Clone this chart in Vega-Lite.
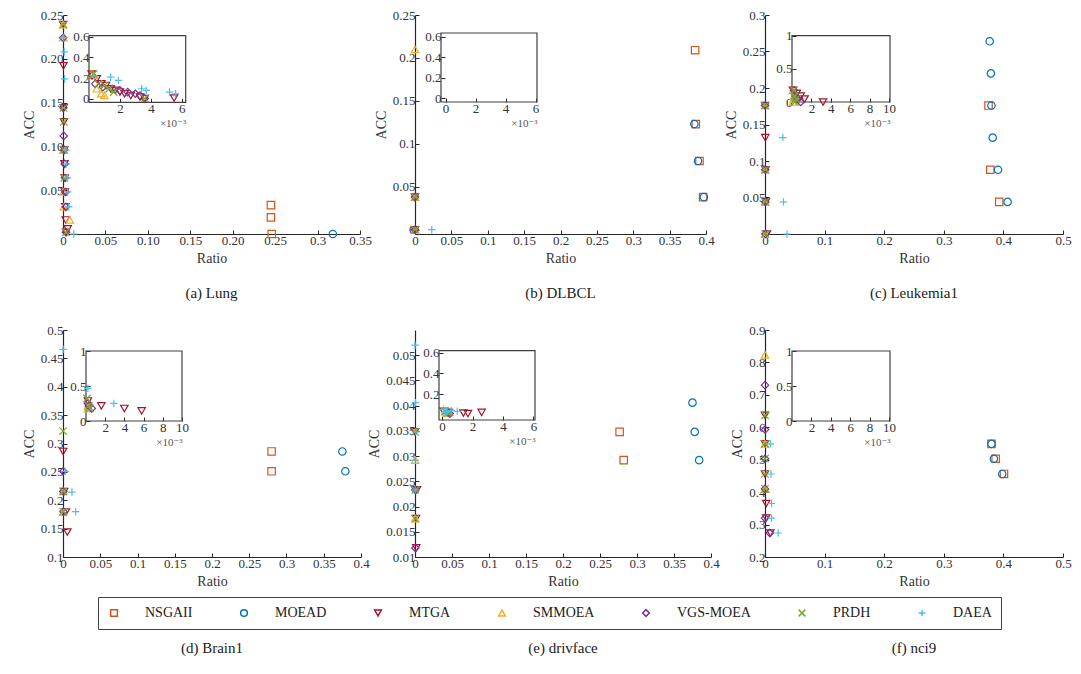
{
 "$schema": "https://vega.github.io/schema/vega-lite/v6.json",
 "background": "white",
 "padding": {"left": 22, "top": 9, "right": 5, "bottom": 5},
 "config": {
  "view": {"stroke": null},
  "font": "Liberation Serif, Times New Roman, DejaVu Serif, serif",
  "axis": {"grid": false, "domainColor": "#262626", "domainWidth": 1.2, "tickColor": "#262626", "tickSize": -4, "tickWidth": 1, "labelFont": "Liberation Serif, Times New Roman, DejaVu Serif, serif", "labelFontSize": 13, "labelColor": "#333333", "labelPadding": 4, "titleFont": "Liberation Serif, Times New Roman, DejaVu Serif, serif", "titleFontSize": 14, "titleFontWeight": "normal", "titleColor": "#333333", "titlePadding": 4, "labelFlush": false, "labelOverlap": false},
  "title": {"font": "Liberation Serif, Times New Roman, DejaVu Serif, serif", "fontSize": 15, "fontWeight": "normal", "color": "#222222", "frame": "group"},
  "legend": {"labelFont": "Liberation Serif, Times New Roman, DejaVu Serif, serif", "labelFontSize": 14, "labelColor": "#222222"}
 },
 "datasets": {
  "lung": [
   {"alg": "NSGAII", "ratio": 0.245, "acc": 0.033},
   {"alg": "NSGAII", "ratio": 0.245, "acc": 0.019},
   {"alg": "NSGAII", "ratio": 0.246, "acc": 0.0},
   {"alg": "MOEAD", "ratio": 0.318, "acc": 0.0},
   {"alg": "MTGA", "ratio": 0.00017, "acc": 0.239},
   {"alg": "MTGA", "ratio": 0.0005, "acc": 0.192},
   {"alg": "MTGA", "ratio": 0.0008, "acc": 0.144},
   {"alg": "MTGA", "ratio": 0.0011, "acc": 0.128},
   {"alg": "MTGA", "ratio": 0.0014, "acc": 0.096},
   {"alg": "MTGA", "ratio": 0.0017, "acc": 0.08},
   {"alg": "MTGA", "ratio": 0.002, "acc": 0.064},
   {"alg": "MTGA", "ratio": 0.0023, "acc": 0.048},
   {"alg": "MTGA", "ratio": 0.0027, "acc": 0.031},
   {"alg": "MTGA", "ratio": 0.0033, "acc": 0.016},
   {"alg": "MTGA", "ratio": 0.0036, "acc": 0.002},
   {"alg": "MTGA", "ratio": 0.0055, "acc": 0.006},
   {"alg": "SMMOEA", "ratio": 0.0002, "acc": 0.239},
   {"alg": "SMMOEA", "ratio": 0.0003, "acc": 0.224},
   {"alg": "SMMOEA", "ratio": 0.0005, "acc": 0.096},
   {"alg": "SMMOEA", "ratio": 0.0008, "acc": 0.048},
   {"alg": "SMMOEA", "ratio": 0.001, "acc": 0.031},
   {"alg": "SMMOEA", "ratio": 0.008, "acc": 0.016},
   {"alg": "VGS-MOEA", "ratio": 0.0002, "acc": 0.224},
   {"alg": "VGS-MOEA", "ratio": 0.0004, "acc": 0.144},
   {"alg": "VGS-MOEA", "ratio": 0.0009, "acc": 0.112},
   {"alg": "VGS-MOEA", "ratio": 0.0015, "acc": 0.096},
   {"alg": "VGS-MOEA", "ratio": 0.002, "acc": 0.08},
   {"alg": "VGS-MOEA", "ratio": 0.0025, "acc": 0.064},
   {"alg": "VGS-MOEA", "ratio": 0.003, "acc": 0.048},
   {"alg": "VGS-MOEA", "ratio": 0.0033, "acc": 0.031},
   {"alg": "VGS-MOEA", "ratio": 0.0036, "acc": 0.002},
   {"alg": "PRDH", "ratio": 0.0003, "acc": 0.239},
   {"alg": "PRDH", "ratio": 0.0006, "acc": 0.144},
   {"alg": "PRDH", "ratio": 0.001, "acc": 0.128},
   {"alg": "PRDH", "ratio": 0.0013, "acc": 0.096},
   {"alg": "PRDH", "ratio": 0.0016, "acc": 0.064},
   {"alg": "PRDH", "ratio": 0.0036, "acc": 0.002},
   {"alg": "DAEA", "ratio": 0.0003, "acc": 0.224},
   {"alg": "DAEA", "ratio": 0.0014, "acc": 0.208},
   {"alg": "DAEA", "ratio": 0.0019, "acc": 0.177},
   {"alg": "DAEA", "ratio": 0.0034, "acc": 0.096},
   {"alg": "DAEA", "ratio": 0.0037, "acc": 0.08},
   {"alg": "DAEA", "ratio": 0.0052, "acc": 0.064},
   {"alg": "DAEA", "ratio": 0.0056, "acc": 0.048},
   {"alg": "DAEA", "ratio": 0.0068, "acc": 0.031},
   {"alg": "DAEA", "ratio": 0.0127, "acc": 0.0}
  ],
  "dlbcl": [
   {"alg": "NSGAII", "ratio": 0.385, "acc": 0.209},
   {"alg": "NSGAII", "ratio": 0.386, "acc": 0.123},
   {"alg": "NSGAII", "ratio": 0.391, "acc": 0.08},
   {"alg": "NSGAII", "ratio": 0.396, "acc": 0.038},
   {"alg": "MOEAD", "ratio": 0.384, "acc": 0.123},
   {"alg": "MOEAD", "ratio": 0.389, "acc": 0.08},
   {"alg": "MOEAD", "ratio": 0.397, "acc": 0.038},
   {"alg": "MTGA", "ratio": 0.0, "acc": 0.038},
   {"alg": "MTGA", "ratio": 0.0, "acc": 0.0},
   {"alg": "SMMOEA", "ratio": 0.0, "acc": 0.21},
   {"alg": "SMMOEA", "ratio": 0.0, "acc": 0.038},
   {"alg": "SMMOEA", "ratio": 0.0, "acc": 0.0},
   {"alg": "VGS-MOEA", "ratio": 0.0, "acc": 0.038},
   {"alg": "VGS-MOEA", "ratio": 0.0, "acc": 0.0},
   {"alg": "PRDH", "ratio": 0.0, "acc": 0.038},
   {"alg": "PRDH", "ratio": 0.0, "acc": 0.0},
   {"alg": "DAEA", "ratio": 0.023, "acc": 0.0}
  ],
  "leukemia": [
   {"alg": "NSGAII", "ratio": 0.375, "acc": 0.176},
   {"alg": "NSGAII", "ratio": 0.378, "acc": 0.088},
   {"alg": "NSGAII", "ratio": 0.393, "acc": 0.044},
   {"alg": "MOEAD", "ratio": 0.377, "acc": 0.264},
   {"alg": "MOEAD", "ratio": 0.379, "acc": 0.22},
   {"alg": "MOEAD", "ratio": 0.38, "acc": 0.176},
   {"alg": "MOEAD", "ratio": 0.382, "acc": 0.132},
   {"alg": "MOEAD", "ratio": 0.391, "acc": 0.088},
   {"alg": "MOEAD", "ratio": 0.407, "acc": 0.044},
   {"alg": "MTGA", "ratio": 0.0001, "acc": 0.176},
   {"alg": "MTGA", "ratio": 0.0005, "acc": 0.132},
   {"alg": "MTGA", "ratio": 0.0009, "acc": 0.088},
   {"alg": "MTGA", "ratio": 0.0013, "acc": 0.044},
   {"alg": "MTGA", "ratio": 0.0032, "acc": 0.0},
   {"alg": "SMMOEA", "ratio": 0.0001, "acc": 0.176},
   {"alg": "SMMOEA", "ratio": 0.0002, "acc": 0.088},
   {"alg": "SMMOEA", "ratio": 0.0002, "acc": 0.044},
   {"alg": "SMMOEA", "ratio": 0.0001, "acc": 0.0},
   {"alg": "VGS-MOEA", "ratio": 0.0002, "acc": 0.176},
   {"alg": "VGS-MOEA", "ratio": 0.0004, "acc": 0.088},
   {"alg": "VGS-MOEA", "ratio": 0.0006, "acc": 0.044},
   {"alg": "VGS-MOEA", "ratio": 0.0009, "acc": 0.0},
   {"alg": "PRDH", "ratio": 0.0002, "acc": 0.176},
   {"alg": "PRDH", "ratio": 0.0003, "acc": 0.088},
   {"alg": "PRDH", "ratio": 0.0004, "acc": 0.044},
   {"alg": "PRDH", "ratio": 0.0003, "acc": 0.0},
   {"alg": "DAEA", "ratio": 0.03, "acc": 0.132},
   {"alg": "DAEA", "ratio": 0.031, "acc": 0.044},
   {"alg": "DAEA", "ratio": 0.037, "acc": 0.0}
  ],
  "brain": [
   {"alg": "NSGAII", "ratio": 0.28, "acc": 0.286},
   {"alg": "NSGAII", "ratio": 0.28, "acc": 0.251},
   {"alg": "MOEAD", "ratio": 0.375, "acc": 0.286},
   {"alg": "MOEAD", "ratio": 0.379, "acc": 0.251},
   {"alg": "MTGA", "ratio": 0.0002, "acc": 0.286},
   {"alg": "MTGA", "ratio": 0.0016, "acc": 0.2155},
   {"alg": "MTGA", "ratio": 0.004, "acc": 0.179},
   {"alg": "MTGA", "ratio": 0.0058, "acc": 0.144},
   {"alg": "SMMOEA", "ratio": 0.0002, "acc": 0.2155},
   {"alg": "SMMOEA", "ratio": 0.0002, "acc": 0.179},
   {"alg": "VGS-MOEA", "ratio": 0.0002, "acc": 0.251},
   {"alg": "VGS-MOEA", "ratio": 0.0003, "acc": 0.2155},
   {"alg": "VGS-MOEA", "ratio": 0.0006, "acc": 0.18},
   {"alg": "PRDH", "ratio": 0.0001, "acc": 0.322},
   {"alg": "PRDH", "ratio": 0.0003, "acc": 0.2155},
   {"alg": "PRDH", "ratio": 0.0004, "acc": 0.18},
   {"alg": "DAEA", "ratio": 0.0002, "acc": 0.466},
   {"alg": "DAEA", "ratio": 0.0029, "acc": 0.251},
   {"alg": "DAEA", "ratio": 0.012, "acc": 0.2144},
   {"alg": "DAEA", "ratio": 0.017, "acc": 0.18}
  ],
  "drivface": [
   {"alg": "NSGAII", "ratio": 0.2765, "acc": 0.0348},
   {"alg": "NSGAII", "ratio": 0.282, "acc": 0.0292},
   {"alg": "MOEAD", "ratio": 0.375, "acc": 0.0406},
   {"alg": "MOEAD", "ratio": 0.378, "acc": 0.0348},
   {"alg": "MOEAD", "ratio": 0.384, "acc": 0.0292},
   {"alg": "MTGA", "ratio": 0.0001, "acc": 0.0348},
   {"alg": "MTGA", "ratio": 0.0004, "acc": 0.0233},
   {"alg": "MTGA", "ratio": 0.0014, "acc": 0.0176},
   {"alg": "MTGA", "ratio": 0.0017, "acc": 0.0118},
   {"alg": "MTGA", "ratio": 0.0026, "acc": 0.0233},
   {"alg": "SMMOEA", "ratio": 0.0002, "acc": 0.0292},
   {"alg": "SMMOEA", "ratio": 0.0003, "acc": 0.0176},
   {"alg": "VGS-MOEA", "ratio": 0.0004, "acc": 0.0233},
   {"alg": "VGS-MOEA", "ratio": 0.0005, "acc": 0.0118},
   {"alg": "PRDH", "ratio": 0.0002, "acc": 0.0348},
   {"alg": "PRDH", "ratio": 0.0005, "acc": 0.0233},
   {"alg": "PRDH", "ratio": 0.0004, "acc": 0.0176},
   {"alg": "DAEA", "ratio": 0.0001, "acc": 0.052},
   {"alg": "DAEA", "ratio": 0.0006, "acc": 0.0406},
   {"alg": "DAEA", "ratio": 0.001, "acc": 0.0348},
   {"alg": "DAEA", "ratio": 0.0003, "acc": 0.0292},
   {"alg": "DAEA", "ratio": 0.0002, "acc": 0.0233}
  ],
  "nci9": [
   {"alg": "NSGAII", "ratio": 0.38, "acc": 0.549},
   {"alg": "NSGAII", "ratio": 0.387, "acc": 0.503},
   {"alg": "NSGAII", "ratio": 0.401, "acc": 0.456},
   {"alg": "MOEAD", "ratio": 0.38, "acc": 0.549},
   {"alg": "MOEAD", "ratio": 0.384, "acc": 0.503},
   {"alg": "MOEAD", "ratio": 0.398, "acc": 0.456},
   {"alg": "MTGA", "ratio": 0.0, "acc": 0.637},
   {"alg": "MTGA", "ratio": 0.0, "acc": 0.549},
   {"alg": "MTGA", "ratio": 0.0, "acc": 0.456},
   {"alg": "MTGA", "ratio": 0.002, "acc": 0.365},
   {"alg": "MTGA", "ratio": 0.002, "acc": 0.32},
   {"alg": "MTGA", "ratio": 0.009, "acc": 0.274},
   {"alg": "SMMOEA", "ratio": 0.0, "acc": 0.823},
   {"alg": "SMMOEA", "ratio": 0.0, "acc": 0.549},
   {"alg": "SMMOEA", "ratio": 0.0, "acc": 0.41},
   {"alg": "VGS-MOEA", "ratio": 0.0, "acc": 0.73},
   {"alg": "VGS-MOEA", "ratio": 0.0, "acc": 0.593},
   {"alg": "VGS-MOEA", "ratio": 0.0, "acc": 0.503},
   {"alg": "VGS-MOEA", "ratio": 0.0, "acc": 0.41},
   {"alg": "VGS-MOEA", "ratio": 0.0, "acc": 0.32},
   {"alg": "VGS-MOEA", "ratio": 0.008, "acc": 0.274},
   {"alg": "PRDH", "ratio": 0.0, "acc": 0.637},
   {"alg": "PRDH", "ratio": 0.0, "acc": 0.549},
   {"alg": "PRDH", "ratio": 0.0, "acc": 0.503},
   {"alg": "PRDH", "ratio": 0.0, "acc": 0.456},
   {"alg": "PRDH", "ratio": 0.0, "acc": 0.41},
   {"alg": "DAEA", "ratio": 0.009, "acc": 0.549},
   {"alg": "DAEA", "ratio": 0.01, "acc": 0.456},
   {"alg": "DAEA", "ratio": 0.011, "acc": 0.365},
   {"alg": "DAEA", "ratio": 0.011, "acc": 0.32},
   {"alg": "DAEA", "ratio": 0.022, "acc": 0.274}
  ]
 },
 "columns": 3,
 "spacing": {"row": 96, "column": 54},
 "bounds": "flush",
 "concat": [
  {
   "width": 297, "height": 219,
   "title": {"text": "(a) Lung", "orient": "bottom", "offset": 21},
   "data": {"name": "lung"},
   "resolve": {"scale": {"x": "independent", "y": "independent"}},
   "layer": [
    {
     "mark": {"type": "point", "filled": false, "size": 55, "strokeWidth": 1.2, "opacity": 1},
     "encoding": {
      "x": {"field": "ratio", "type": "quantitative", "scale": {"domain": [0, 0.35], "nice": false, "zero": false}, "axis": {"title": "Ratio", "values": [0, 0.05, 0.1, 0.15, 0.2, 0.25, 0.3, 0.35], "labelExpr": "datum.value == 0 ? '0' : (datum.value < 0.26 ? format(datum.value, '.2f') : format(datum.value, '~g'))"}},
      "y": {"field": "acc", "type": "quantitative", "scale": {"domain": [0, 0.25], "nice": false, "zero": false}, "axis": {"title": "ACC", "values": [0.05, 0.1, 0.15, 0.2, 0.25], "format": ".2f"}},
      "color": {"field": "alg", "type": "nominal", "scale": {"domain": ["NSGAII", "MOEAD", "MTGA", "SMMOEA", "VGS-MOEA", "PRDH", "DAEA"], "range": ["#D95319", "#0072BD", "#A2142F", "#EDB120", "#7E2F8E", "#77AC30", "#4DBEEE"]}, "legend": {"orient": "none", "legendX": 35, "legendY": 582, "direction": "horizontal", "columns": 7, "title": null, "strokeColor": "#404040", "padding": 9, "columnPadding": 44, "labelOffset": 24, "symbolSize": 45, "symbolStrokeWidth": 1.5}},
      "shape": {"field": "alg", "type": "nominal", "scale": {"domain": ["NSGAII", "MOEAD", "MTGA", "SMMOEA", "VGS-MOEA", "PRDH", "DAEA"], "range": ["square", "circle", "triangle-down", "triangle-up", "diamond", "M-1,-1L1,1M-1,1L1,-1", "M-1,0L1,0M0,-1L0,1"]}, "legend": {"orient": "none", "legendX": 35, "legendY": 582, "direction": "horizontal", "columns": 7, "title": null, "strokeColor": "#404040", "padding": 9, "columnPadding": 44, "labelOffset": 24, "symbolSize": 45, "symbolStrokeWidth": 1.5}}
     }
    },
    {
     "layer": [
      {
       "data": {"values": [{}]},
       "mark": {"type": "rect", "fillOpacity": 0, "stroke": "#404040", "strokeWidth": 1.2},
       "encoding": {
        "x": {"datum": 0, "type": "quantitative", "scale": {"domain": [0, 0.00625], "range": [26, 122.7], "nice": false, "zero": false}, "axis": {"orient": "bottom", "offset": -131.7, "domain": false, "values": [0.002, 0.004, 0.006], "labelExpr": "format(datum.value * 1000, '~g')", "title": "×10⁻³", "titleAnchor": "end", "titleFontSize": 11, "titlePadding": 2, "titleColor": "#555555"}},
        "x2": {"datum": 0.00625},
        "y": {"datum": -0.035, "type": "quantitative", "scale": {"domain": [-0.035, 0.61], "range": [87.3, 20.7], "nice": false, "zero": false}, "axis": {"orient": "left", "offset": -26, "domain": false, "values": [0, 0.2, 0.4, 0.6], "format": "~g", "title": null}},
        "y2": {"datum": 0.61}
       }
      },
      {
       "transform": [{"filter": "datum.ratio > 0 && datum.ratio <= 0.00625"}],
       "mark": {"type": "point", "filled": false, "size": 55, "strokeWidth": 1.2, "opacity": 1},
       "encoding": {
        "x": {"field": "ratio", "type": "quantitative", "axis": {"orient": "bottom", "offset": -131.7, "domain": false, "values": [0.002, 0.004, 0.006], "labelExpr": "format(datum.value * 1000, '~g')", "title": "×10⁻³", "titleAnchor": "end", "titleFontSize": 11, "titlePadding": 2, "titleColor": "#555555"}},
        "y": {"field": "acc", "type": "quantitative", "axis": {"orient": "left", "offset": -26, "domain": false, "values": [0, 0.2, 0.4, 0.6], "format": "~g", "title": null}},
        "color": {"field": "alg", "type": "nominal"},
        "shape": {"field": "alg", "type": "nominal"}
       }
      }
     ]
    }
   ]
  },
  {
   "width": 291, "height": 219,
   "title": {"text": "(b) DLBCL", "orient": "bottom", "offset": 21},
   "data": {"name": "dlbcl"},
   "resolve": {"scale": {"x": "independent", "y": "independent"}},
   "layer": [
    {
     "mark": {"type": "point", "filled": false, "size": 55, "strokeWidth": 1.2, "opacity": 1},
     "encoding": {
      "x": {"field": "ratio", "type": "quantitative", "scale": {"domain": [0, 0.4], "nice": false, "zero": false}, "axis": {"title": "Ratio", "values": [0, 0.05, 0.1, 0.15, 0.2, 0.25, 0.3, 0.35, 0.4], "format": "~g"}},
      "y": {"field": "acc", "type": "quantitative", "scale": {"domain": [-0.005, 0.25], "nice": false, "zero": false}, "axis": {"title": "ACC", "values": [0, 0.05, 0.1, 0.15, 0.2, 0.25], "format": "~g"}},
      "color": {"field": "alg", "type": "nominal"},
      "shape": {"field": "alg", "type": "nominal"}
     }
    },
    {
     "data": {"values": [{}]},
     "mark": {"type": "rect", "fillOpacity": 0, "stroke": "#404040", "strokeWidth": 1.2},
     "encoding": {
      "x": {"datum": -0.0003, "type": "quantitative", "scale": {"domain": [-0.0003, 0.0061], "range": [26, 122], "nice": false, "zero": false}, "axis": {"orient": "bottom", "offset": -132, "domain": false, "values": [0, 0.002, 0.004, 0.006], "labelExpr": "format(datum.value * 1000, '~g')", "title": "×10⁻³", "titleAnchor": "end", "titleFontSize": 11, "titlePadding": 2, "titleColor": "#555555"}},
      "x2": {"datum": 0.0061},
      "y": {"datum": -0.036, "type": "quantitative", "scale": {"domain": [-0.036, 0.635], "range": [87, 18], "nice": false, "zero": false}, "axis": {"orient": "left", "offset": -26, "domain": false, "values": [0, 0.2, 0.4, 0.6], "format": "~g", "title": null}},
      "y2": {"datum": 0.635}
     }
    }
   ]
  },
  {
   "width": 298, "height": 219,
   "title": {"text": "(c) Leukemia1", "orient": "bottom", "offset": 21},
   "data": {"name": "leukemia"},
   "resolve": {"scale": {"x": "independent", "y": "independent"}},
   "layer": [
    {
     "mark": {"type": "point", "filled": false, "size": 55, "strokeWidth": 1.2, "opacity": 1},
     "encoding": {
      "x": {"field": "ratio", "type": "quantitative", "scale": {"domain": [0, 0.5], "nice": false, "zero": false}, "axis": {"title": "Ratio", "values": [0, 0.1, 0.2, 0.3, 0.4, 0.5], "format": "~g"}},
      "y": {"field": "acc", "type": "quantitative", "scale": {"domain": [0, 0.3], "nice": false, "zero": false}, "axis": {"title": "ACC", "values": [0.05, 0.1, 0.15, 0.2, 0.25, 0.3], "format": "~g"}},
      "color": {"field": "alg", "type": "nominal"},
      "shape": {"field": "alg", "type": "nominal"}
     }
    },
    {
     "layer": [
      {
       "data": {"values": [{}]},
       "mark": {"type": "rect", "fillOpacity": 0, "stroke": "#404040", "strokeWidth": 1.2},
       "encoding": {
        "x": {"datum": 0, "type": "quantitative", "scale": {"domain": [0, 0.0101], "range": [27, 125], "nice": false, "zero": false}, "axis": {"orient": "bottom", "offset": -132, "domain": false, "values": [0.002, 0.004, 0.006, 0.008, 0.01], "labelExpr": "format(datum.value * 1000, '~g')", "title": "×10⁻³", "titleAnchor": "end", "titleFontSize": 11, "titlePadding": 2, "titleColor": "#555555"}},
        "x2": {"datum": 0.0101},
        "y": {"datum": 0, "type": "quantitative", "scale": {"domain": [0, 1], "range": [87, 20.7], "nice": false, "zero": false}, "axis": {"orient": "left", "offset": -27, "domain": false, "values": [0, 0.5, 1], "format": "~g", "title": null}},
        "y2": {"datum": 1}
       }
      },
      {
       "transform": [{"filter": "datum.ratio > 0 && datum.ratio <= 0.0101"}],
       "mark": {"type": "point", "filled": false, "size": 55, "strokeWidth": 1.2, "opacity": 1},
       "encoding": {
        "x": {"field": "ratio", "type": "quantitative", "axis": {"orient": "bottom", "offset": -132, "domain": false, "values": [0.002, 0.004, 0.006, 0.008, 0.01], "labelExpr": "format(datum.value * 1000, '~g')", "title": "×10⁻³", "titleAnchor": "end", "titleFontSize": 11, "titlePadding": 2, "titleColor": "#555555"}},
        "y": {"field": "acc", "type": "quantitative", "axis": {"orient": "left", "offset": -27, "domain": false, "values": [0, 0.5, 1], "format": "~g", "title": null}},
        "color": {"field": "alg", "type": "nominal"},
        "shape": {"field": "alg", "type": "nominal"}
       }
      }
     ]
    }
   ]
  },
  {
   "width": 298, "height": 227,
   "title": {"text": "(d) Brain1", "orient": "bottom", "offset": 53},
   "data": {"name": "brain"},
   "resolve": {"scale": {"x": "independent", "y": "independent"}},
   "layer": [
    {
     "mark": {"type": "point", "filled": false, "size": 55, "strokeWidth": 1.2, "opacity": 1},
     "encoding": {
      "x": {"field": "ratio", "type": "quantitative", "scale": {"domain": [0, 0.4], "nice": false, "zero": false}, "axis": {"title": "Ratio", "values": [0, 0.05, 0.1, 0.15, 0.2, 0.25, 0.3, 0.35, 0.4], "format": "~g"}},
      "y": {"field": "acc", "type": "quantitative", "scale": {"domain": [0.1, 0.5], "nice": false, "zero": false}, "axis": {"title": "ACC", "values": [0.1, 0.15, 0.2, 0.25, 0.3, 0.35, 0.4, 0.45, 0.5], "format": "~g"}},
      "color": {"field": "alg", "type": "nominal"},
      "shape": {"field": "alg", "type": "nominal"}
     }
    },
    {
     "layer": [
      {
       "data": {"values": [{}]},
       "mark": {"type": "rect", "fillOpacity": 0, "stroke": "#404040", "strokeWidth": 1.2},
       "encoding": {
        "x": {"datum": 0, "type": "quantitative", "scale": {"domain": [0, 0.01], "range": [23, 119], "nice": false, "zero": false}, "axis": {"orient": "bottom", "offset": -136, "domain": false, "values": [0.002, 0.004, 0.006, 0.008, 0.01], "labelExpr": "format(datum.value * 1000, '~g')", "title": "×10⁻³", "titleAnchor": "end", "titleFontSize": 11, "titlePadding": 2, "titleColor": "#555555"}},
        "x2": {"datum": 0.01},
        "y": {"datum": 0, "type": "quantitative", "scale": {"domain": [0, 1], "range": [91, 21], "nice": false, "zero": false}, "axis": {"orient": "left", "offset": -23, "domain": false, "values": [0, 0.5, 1], "format": "~g", "title": null}},
        "y2": {"datum": 1}
       }
      },
      {
       "transform": [{"filter": "datum.ratio > 0 && datum.ratio <= 0.01"}],
       "mark": {"type": "point", "filled": false, "size": 55, "strokeWidth": 1.2, "opacity": 1},
       "encoding": {
        "x": {"field": "ratio", "type": "quantitative", "axis": {"orient": "bottom", "offset": -136, "domain": false, "values": [0.002, 0.004, 0.006, 0.008, 0.01], "labelExpr": "format(datum.value * 1000, '~g')", "title": "×10⁻³", "titleAnchor": "end", "titleFontSize": 11, "titlePadding": 2, "titleColor": "#555555"}},
        "y": {"field": "acc", "type": "quantitative", "axis": {"orient": "left", "offset": -23, "domain": false, "values": [0, 0.5, 1], "format": "~g", "title": null}},
        "color": {"field": "alg", "type": "nominal"},
        "shape": {"field": "alg", "type": "nominal"}
       }
      }
     ]
    }
   ]
  },
  {
   "width": 296, "height": 227,
   "title": {"text": "(e) drivface", "orient": "bottom", "offset": 53},
   "data": {"name": "drivface"},
   "resolve": {"scale": {"x": "independent", "y": "independent"}},
   "layer": [
    {
     "mark": {"type": "point", "filled": false, "size": 55, "strokeWidth": 1.2, "opacity": 1},
     "encoding": {
      "x": {"field": "ratio", "type": "quantitative", "scale": {"domain": [0, 0.4], "nice": false, "zero": false}, "axis": {"title": "Ratio", "values": [0, 0.05, 0.1, 0.15, 0.2, 0.25, 0.3, 0.35, 0.4], "format": "~g"}},
      "y": {"field": "acc", "type": "quantitative", "scale": {"domain": [0.01, 0.055], "nice": false, "zero": false}, "axis": {"title": "ACC", "values": [0.01, 0.015, 0.02, 0.025, 0.03, 0.035, 0.04, 0.045, 0.05], "format": "~g"}},
      "color": {"field": "alg", "type": "nominal"},
      "shape": {"field": "alg", "type": "nominal"}
     }
    },
    {
     "layer": [
      {
       "data": {"values": [{}]},
       "mark": {"type": "rect", "fillOpacity": 0, "stroke": "#404040", "strokeWidth": 1.2},
       "encoding": {
        "x": {"datum": -0.0002, "type": "quantitative", "scale": {"domain": [-0.0002, 0.0061], "range": [24, 120], "nice": false, "zero": false}, "axis": {"orient": "bottom", "offset": -137, "domain": false, "values": [0, 0.002, 0.004, 0.006], "labelExpr": "format(datum.value * 1000, '~g')", "title": "×10⁻³", "titleAnchor": "end", "titleFontSize": 11, "titlePadding": 2, "titleColor": "#555555"}},
        "x2": {"datum": 0.0061},
        "y": {"datum": -0.05, "type": "quantitative", "scale": {"domain": [-0.05, 0.62], "range": [90, 20.7], "nice": false, "zero": false}, "axis": {"orient": "left", "offset": -24, "domain": false, "values": [0.2, 0.4, 0.6], "format": "~g", "title": null}},
        "y2": {"datum": 0.62}
       }
      },
      {
       "transform": [{"filter": "datum.ratio > 0 && datum.ratio <= 0.0061"}],
       "mark": {"type": "point", "filled": false, "size": 55, "strokeWidth": 1.2, "opacity": 1},
       "encoding": {
        "x": {"field": "ratio", "type": "quantitative", "axis": {"orient": "bottom", "offset": -137, "domain": false, "values": [0, 0.002, 0.004, 0.006], "labelExpr": "format(datum.value * 1000, '~g')", "title": "×10⁻³", "titleAnchor": "end", "titleFontSize": 11, "titlePadding": 2, "titleColor": "#555555"}},
        "y": {"field": "acc", "type": "quantitative", "axis": {"orient": "left", "offset": -24, "domain": false, "values": [0.2, 0.4, 0.6], "format": "~g", "title": null}},
        "color": {"field": "alg", "type": "nominal"},
        "shape": {"field": "alg", "type": "nominal"}
       }
      }
     ]
    }
   ]
  },
  {
   "width": 298, "height": 227,
   "title": {"text": "(f) nci9", "orient": "bottom", "offset": 53},
   "data": {"name": "nci9"},
   "resolve": {"scale": {"x": "independent", "y": "independent"}},
   "layer": [
    {
     "mark": {"type": "point", "filled": false, "size": 55, "strokeWidth": 1.2, "opacity": 1},
     "encoding": {
      "x": {"field": "ratio", "type": "quantitative", "scale": {"domain": [0, 0.5], "nice": false, "zero": false}, "axis": {"title": "Ratio", "values": [0, 0.1, 0.2, 0.3, 0.4, 0.5], "format": "~g"}},
      "y": {"field": "acc", "type": "quantitative", "scale": {"domain": [0.2, 0.9], "nice": false, "zero": false}, "axis": {"title": "ACC", "values": [0.2, 0.3, 0.4, 0.5, 0.6, 0.7, 0.8, 0.9], "format": "~g"}},
      "color": {"field": "alg", "type": "nominal"},
      "shape": {"field": "alg", "type": "nominal"}
     }
    },
    {
     "data": {"values": [{}]},
     "mark": {"type": "rect", "fillOpacity": 0, "stroke": "#404040", "strokeWidth": 1.2},
     "encoding": {
      "x": {"datum": 0, "type": "quantitative", "scale": {"domain": [0, 0.0101], "range": [27, 125], "nice": false, "zero": false}, "axis": {"orient": "bottom", "offset": -136, "domain": false, "values": [0.002, 0.004, 0.006, 0.008, 0.01], "labelExpr": "format(datum.value * 1000, '~g')", "title": "×10⁻³", "titleAnchor": "end", "titleFontSize": 11, "titlePadding": 2, "titleColor": "#555555"}},
      "x2": {"datum": 0.0101},
      "y": {"datum": 0, "type": "quantitative", "scale": {"domain": [0, 1], "range": [91, 21], "nice": false, "zero": false}, "axis": {"orient": "left", "offset": -27, "domain": false, "values": [0, 0.5, 1], "format": "~g", "title": null}},
      "y2": {"datum": 1}
     }
    }
   ]
  }
 ]
}
